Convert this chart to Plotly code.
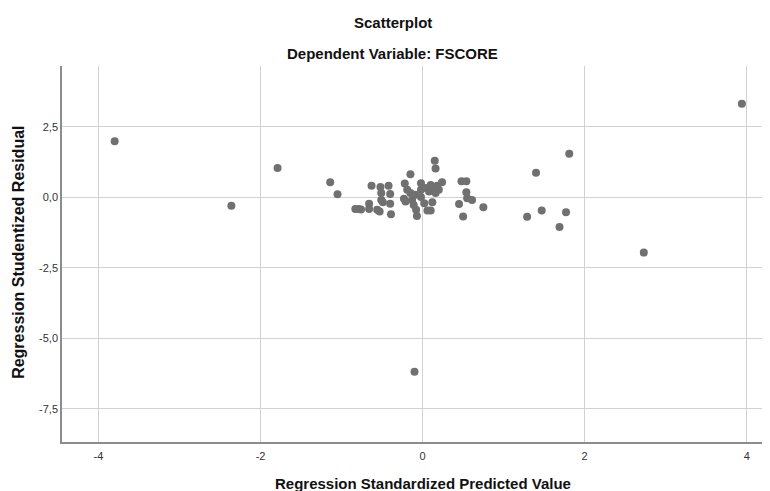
import plotly.graph_objects as go

predicted = [-3.80, -2.36, -1.79, -1.14, -1.05, -0.83, -0.79, -0.76, -0.66, -0.66,
             -0.63, -0.56, -0.52, -0.51, -0.51, -0.53, -0.49, -0.42, -0.40, -0.40,
             -0.39, -0.15, -0.22, -0.23, -0.21, -0.19, -0.15, -0.13, -0.11, -0.09,
             -0.08, -0.07, -0.02, -0.02, -0.02, 0.02, 0.04, 0.06, 0.08, 0.10,
             0.10, 0.12, 0.15, 0.16, 0.14, 0.16, 0.18, 0.24, 0.20, 0.48,
             0.54, 0.54, 0.55, 0.61, 0.45, 0.50, 0.75, 1.29, 1.40, 1.81,
             1.47, 1.77, 1.69, 2.73, 3.94, -0.10]
residual = [1.99, -0.30, 1.04, 0.54, 0.11, -0.41, -0.41, -0.43, -0.23, -0.41,
            0.41, -0.44, 0.37, 0.15, -0.09, -0.50, -0.17, 0.41, 0.12, -0.23,
            -0.60, 0.82, 0.49, -0.05, -0.15, 0.27, 0.15, -0.09, -0.27, 0.09,
            -0.44, -0.66, 0.50, 0.27, 0.01, -0.21, 0.33, -0.47, 0.21, 0.44,
            -0.47, -0.17, 1.30, 1.02, 0.27, 0.15, 0.41, 0.54, 0.27, 0.57,
            0.57, 0.18, -0.03, -0.09, -0.24, -0.68, -0.35, -0.69, 0.87, 1.55,
            -0.47, -0.53, -1.05, -1.96, 3.32, -6.19]

x_ticks = [-4, -2, 0, 2, 4]
x_tick_labels = ["-4", "-2", "0", "2", "4"]
y_ticks = [2.5, 0.0, -2.5, -5.0, -7.5]
y_tick_labels = ["2,5", "0,0", "-2,5", "-5,0", "-7,5"]

fig = go.Figure(go.Scatter(
    x=predicted, y=residual, mode="markers",
    marker=dict(color="#707070", size=8, line=dict(width=0)),
    hoverinfo="x+y"))

font_fam = "Liberation Sans, Arial, sans-serif"
# page body has an 8px default margin, so the figure is sized to fit inside it
fig.update_layout(
    width=762, height=483,
    margin=dict(l=54, r=1, t=58, b=49),
    paper_bgcolor="white", plot_bgcolor="white",
    separators=",.",
    showlegend=False,
    font=dict(family=font_fam, size=11, color="#333333"),
    xaxis=dict(range=[-4.45, 4.275], tickvals=x_ticks, ticktext=x_tick_labels,
               ticks="", showgrid=True, ticklabelstandoff=3,
               gridcolor="#d2d2d2", gridwidth=1, zeroline=False,
               showline=True, linecolor="#8c8c8c", linewidth=1.5,
               tickfont=dict(size=11, color="#333333")),
    yaxis=dict(range=[-8.68, 4.66], tickvals=y_ticks, ticktext=y_tick_labels,
               ticks="", showgrid=True, gridcolor="#d2d2d2", gridwidth=1,
               zeroline=False, showline=True, linecolor="#8c8c8c", linewidth=1.5,
               tickfont=dict(size=11, color="#333333")),
    annotations=[
        dict(text="<b>Scatterplot</b>", xref="paper", yref="paper", x=0.468, y=1,
             yshift=44, xanchor="center", yanchor="middle", showarrow=False,
             font=dict(size=15, color="#111111", family=font_fam)),
        dict(text="<b>Dependent Variable: FSCORE</b>", xref="paper", yref="paper",
             x=0.468, y=1, yshift=13, xanchor="center", yanchor="middle", showarrow=False,
             font=dict(size=15, color="#111111", family=font_fam)),
        dict(text="<b>Regression Standardized Predicted Value</b>", xref="paper",
             yref="paper", x=0.511, y=0, yshift=-41, xanchor="center", yanchor="middle",
             showarrow=False, font=dict(size=15, color="#111111", family=font_fam)),
        dict(text="<b>Regression Studentized Residual</b>", xref="paper",
             yref="paper", x=0, y=0.503, xshift=-43, textangle=-90, xanchor="center",
             yanchor="middle", showarrow=False,
             font=dict(size=16, color="#111111", family=font_fam)),
    ],
)

fig.write_html("out.html")
